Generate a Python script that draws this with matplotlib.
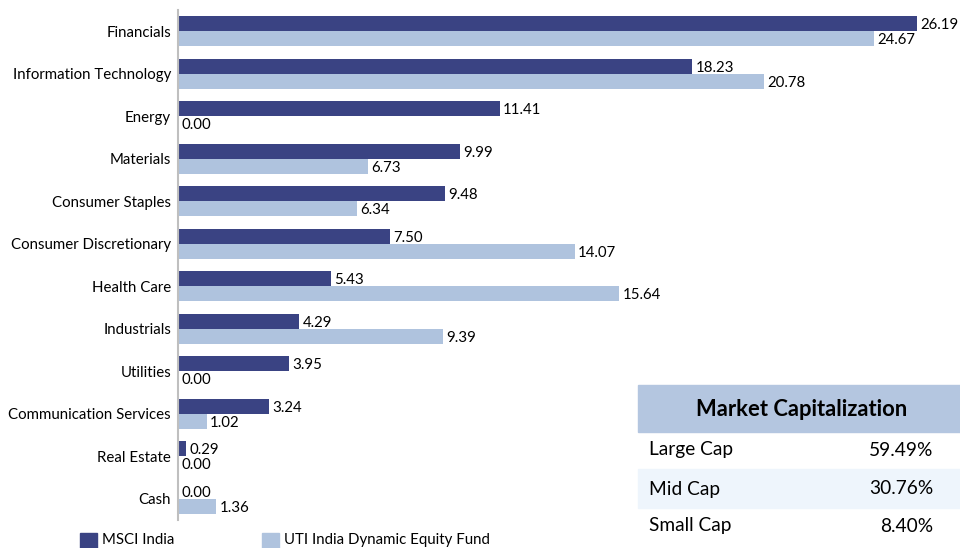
import numpy as np
import matplotlib.pyplot as plt
from matplotlib.patches import Rectangle

plt.rcParams['font.family'] = ['Lato', 'DejaVu Sans']

sectors = ['Financials', 'Information Technology', 'Energy', 'Materials',
           'Consumer Staples', 'Consumer Discretionary', 'Health Care',
           'Industrials', 'Utilities', 'Communication Services',
           'Real Estate', 'Cash']
msci = [26.19, 18.23, 11.41, 9.99, 9.48, 7.50, 5.43, 4.29, 3.95, 3.24, 0.29, 0.00]
fund = [24.67, 20.78, 0.00, 6.73, 6.34, 14.07, 15.64, 9.39, 0.00, 1.02, 0.00, 1.36]
series_names = ['MSCI India', 'UTI India Dynamic Equity Fund']

cap_title = 'Market Capitalization'
cap_names = ['Large Cap', 'Mid Cap', 'Small Cap']
cap_values = ['59.49%', '30.76%', '8.40%']

dark = '#3A4383'
light = '#AFC3DE'

fig = plt.figure(figsize=(9.6, 5.48), dpi=100)
ax = fig.add_axes([178/960, 28/548, 1 - 178/960, 510/548])

y = np.arange(len(sectors))
h = 0.353
ax.barh(y - h/2, msci, height=h, color=dark)
ax.barh(y + h/2, fund, height=h, color=light)

for i in range(len(sectors)):
    ax.text(msci[i] + 0.12, y[i] - h/2 + 0.03, f'{msci[i]:.2f}', va='center', ha='left', fontsize=10.8)
    ax.text(fund[i] + 0.12, y[i] + h/2 + 0.03, f'{fund[i]:.2f}', va='center', ha='left', fontsize=10.8)

ax.set_xlim(0, 782/28.2)
ax.set_ylim(len(sectors) - 0.5, -0.5)
ax.set_yticks(y)
ax.set_yticklabels(sectors, fontsize=10.8)
ax.tick_params(axis='y', length=0, pad=5)
ax.set_xticks([])
for s in ['top', 'right', 'bottom']:
    ax.spines[s].set_visible(False)
ax.spines['left'].set_color('#BFBFBF')
ax.spines['left'].set_linewidth(1.5)

# market cap table
W, H = 960, 548
def fx(px):
    return px / W
def fy(py):
    return 1 - py / H

fig.patches.append(Rectangle((fx(638), fy(432)), fx(322), 47/H, transform=fig.transFigure,
                             color='#B4C6E0', zorder=5))
fig.patches.append(Rectangle((fx(638), fy(508)), fx(322), 39/H, transform=fig.transFigure,
                             color='#EEF5FC', zorder=5))
fig.text(fx(802), fy(409), cap_title, ha='center', va='center', fontsize=15.8,
         fontweight='bold', zorder=6)
row_y = [450, 489, 526]
for name, val, ry in zip(cap_names, cap_values, row_y):
    fig.text(fx(649), fy(ry), name, ha='left', va='center', fontsize=13.8, zorder=6)
    fig.text(fx(933), fy(ry), val, ha='right', va='center', fontsize=13.8, zorder=6)

# legend
for (lx, c), name in zip([(80, dark), (262, light)], series_names):
    fig.patches.append(Rectangle((fx(lx), fy(548)), fx(17), 15/H, transform=fig.transFigure,
                                 color=c))
    fig.text(fx(lx + 22), fy(540), name, ha='left', va='center', fontsize=10.8)

fig.savefig('out.png', dpi=100)
